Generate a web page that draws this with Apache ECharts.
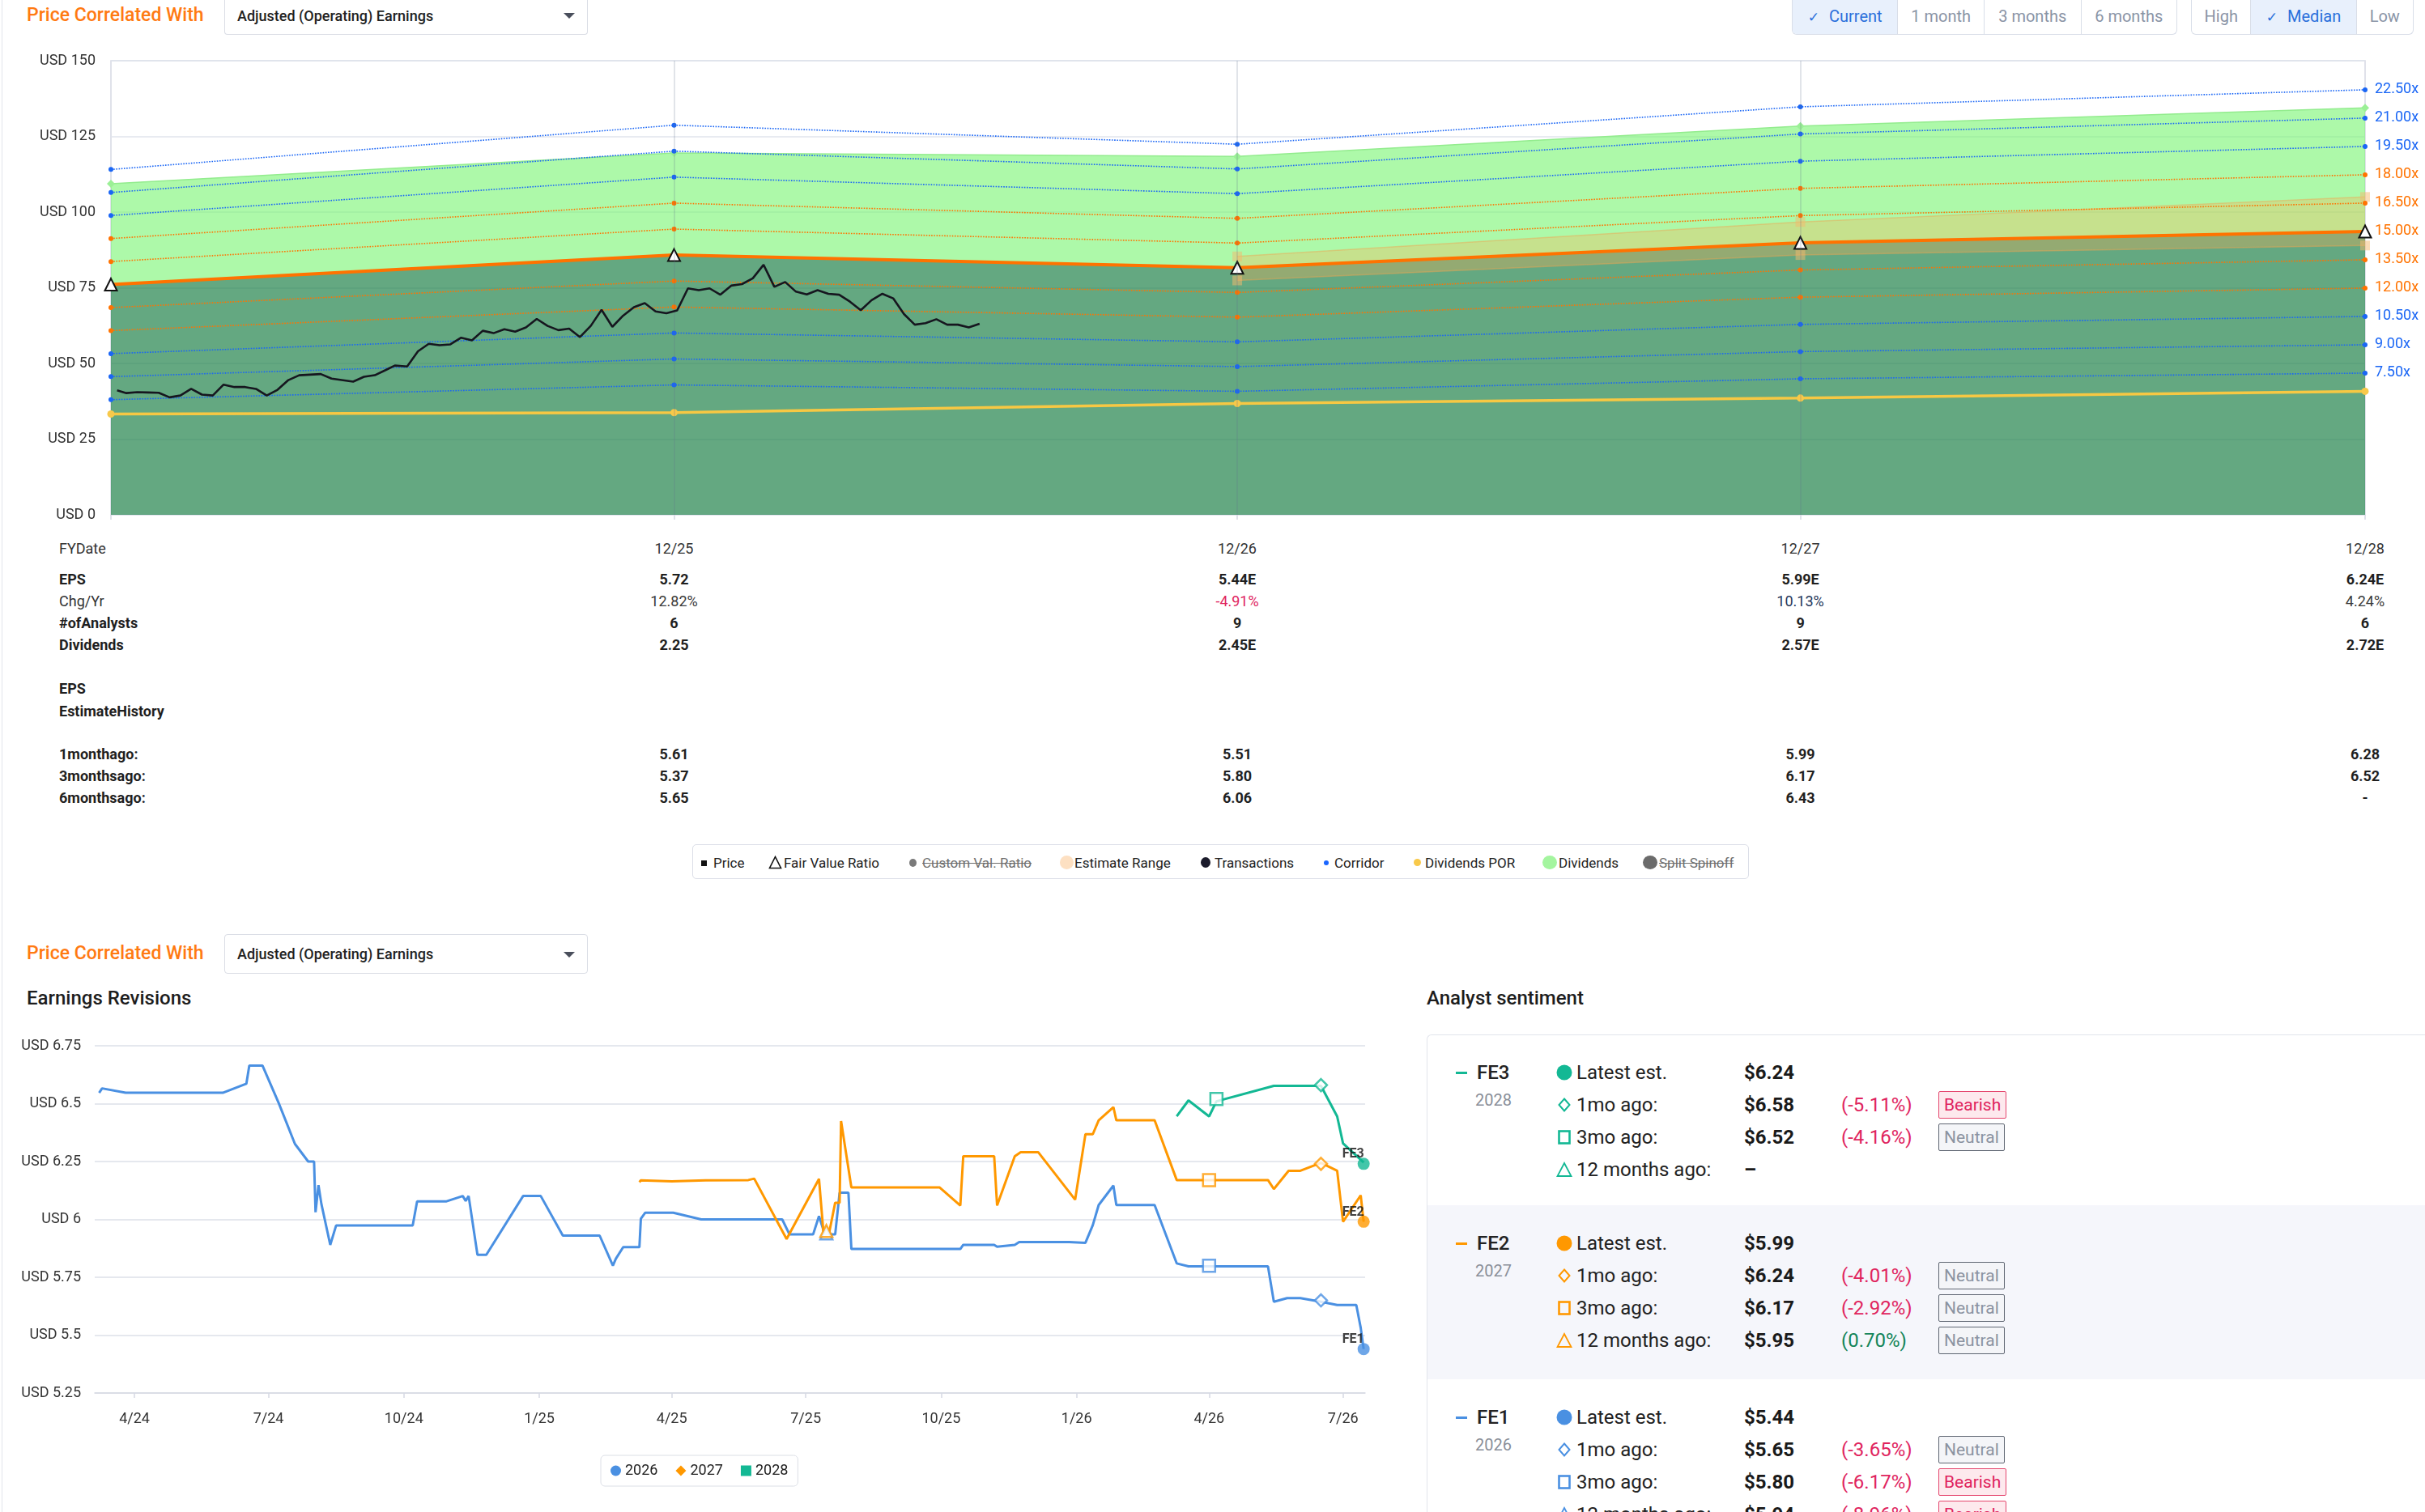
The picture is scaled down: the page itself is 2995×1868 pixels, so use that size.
<!DOCTYPE html>
<html lang="en">
<head>
<meta charset="UTF-8">
<meta name="viewport" content="width=device-width, initial-scale=1.0">
<title>Price Correlated With - Adjusted (Operating) Earnings</title>
<script src="https://cdn.jsdelivr.net/npm/echarts@6.0.0/dist/echarts.min.js"></script>
<style>
    html, body { margin: 0; padding: 0; background: #fff; }
    body {
        position: relative; width: 2995px; height: 1868px; overflow: hidden;
        font-family: Roboto, "Noto Sans", "DejaVu Sans", sans-serif; color: #222;
    }
    .t { position: absolute; white-space: nowrap; }
    .page-edge { position: absolute; left: 2px; top: 0; width: 1px; height: 1868px; background: #e2e5ec; }
    .heading-orange { color: #ff7a12; font-size: 23px; font-weight: 500; line-height: 28px; }
    .select {
        position: absolute; left: 277px; width: 449px; box-sizing: border-box;
        border: 1px solid #dadde5; border-radius: 4px;
        font-size: 18px; font-weight: 500; color: #222; padding-left: 15px;
    }
    .select .caret {
        position: absolute; right: 15px; top: 50%; margin-top: -3px; width: 0; height: 0;
        border-left: 7px solid transparent; border-right: 7px solid transparent; border-top: 7px solid #4a4f5c;
    }
    .btn-group {
        position: absolute; top: -1px; height: 44px; display: flex; box-sizing: border-box;
        border: 1px solid #d9dee8; border-top: none; border-radius: 0 0 6px 6px; overflow: hidden;
    }
    .btn-group div {
        height: 43px; line-height: 43px; text-align: center; font-size: 20px; color: #8a94a6;
        border-left: 1px solid #d9dee8; box-sizing: border-box;
    }
    .btn-group div:first-child { border-left: none; }
    .btn-group div.on { background: #e8f0fc; color: #2a6fdb; }
    .btn-group .chk { font-family: "DejaVu Sans", sans-serif; font-size: 17px; margin-right: 12px; }
    .section-title { font-size: 24px; font-weight: 500; color: #1d1d1d; line-height: 30px; }
    #topChart { position: absolute; left: 0; top: 0; width: 2995px; height: 660px; }
    #revChart { position: absolute; left: 0; top: 1240px; width: 1740px; height: 628px; }
    .cell { position: absolute; white-space: nowrap; font-size: 18px; line-height: 22px; color: #333; }
    .cell.b { font-weight: 700; color: #1f1f1f; }
    .legend-box {
        position: absolute; left: 855px; top: 1043px; width: 1305px; height: 43px; box-sizing: border-box;
        border: 1px solid #dcdfe8; border-radius: 5px;
    }
    .lg { position: absolute; top: 1055px; font-size: 17px; line-height: 22px; color: #222; white-space: nowrap; }
    .lg.off { color: #6f6f6f; text-decoration: line-through; }
    .dot { position: absolute; border-radius: 50%; }
    .panel {
        position: absolute; left: 1762px; top: 1278px; width: 1240px; height: 620px; box-sizing: border-box;
        border: 1px solid #e2e5ec; border-right: none; border-bottom: none; border-top-left-radius: 6px;
    }
    .panel-band { position: absolute; left: 1763px; top: 1489px; width: 1240px; height: 215px; background: #f5f6fb; }
    .s-text { position: absolute; white-space: nowrap; font-size: 24px; line-height: 30px; color: #222; }
    .s-val { font-weight: 700; color: #1a1a1a; }
    .s-year { font-size: 20px; color: #8a8f99; }
    .badge {
        position: absolute; height: 34px; line-height: 32px; box-sizing: border-box; padding: 0 6px;
        font-size: 21px; border: 1px solid; border-radius: 2px; white-space: nowrap;
    }
    .badge.bear { color: #e0245e; border-color: #e5486f; background: #fde9ed; }
    .badge.neut { color: #8b93a1; border-color: #5f6672; background: #f4f5f8; }
</style>
</head>
<body>
<div class="page-edge"></div>

<!-- header -->
<div class="t heading-orange" style="left:33px; top:5px;">Price Correlated With</div>
<div class="select" style="top:-4px; height:47px; line-height:47px; border-top:none; border-radius:0 0 4px 4px;">Adjusted (Operating) Earnings<span class="caret"></span></div>

<div class="btn-group" style="left:2213px; width:476px;">
    <div class="on" style="width:130px;"><span class="chk">✓</span>Current</div>
    <div style="width:107px;">1 month</div>
    <div style="width:120px;">3 months</div>
    <div style="width:119px;">6 months</div>
</div>
<div class="btn-group" style="left:2706px; width:275px;">
    <div style="width:73px;">High</div>
    <div class="on" style="width:131px;"><span class="chk">✓</span>Median</div>
    <div style="width:71px;">Low</div>
</div>

<div id="topChart"></div>
<div id="table"></div>

<!-- legend of the valuation chart -->
<div class="legend-box"></div>
<div class="dot" style="left:866px; top:1063px; width:7px; height:7px; border-radius:0; background:#111;"></div>
<div class="lg" style="left:881px;">Price</div>
<svg style="position:absolute; left:949px; top:1057px;" width="17" height="17"><path d="M8.5 1.5 L15.5 15.5 L1.5 15.5 Z" fill="#fff" stroke="#111" stroke-width="1.6"/></svg>
<div class="lg" style="left:968px;">Fair Value Ratio</div>
<div class="dot" style="left:1123px; top:1061px; width:9px; height:10px; background:#7a7a7a;"></div>
<div class="lg off" style="left:1139px;">Custom Val. Ratio</div>
<div class="dot" style="left:1309px; top:1057px; width:17px; height:17px; background:#fde0c2;"></div>
<div class="lg" style="left:1327px;">Estimate Range</div>
<div class="dot" style="left:1483px; top:1059px; width:12px; height:13px; background:#1b1b2b;"></div>
<div class="lg" style="left:1500px;">Transactions</div>
<div class="dot" style="left:1635px; top:1063px; width:6px; height:6px; background:#1a66ff;"></div>
<div class="lg" style="left:1648px;">Corridor</div>
<div class="dot" style="left:1746px; top:1061px; width:9px; height:9px; background:#f8c94a;"></div>
<div class="lg" style="left:1760px;">Dividends POR</div>
<div class="dot" style="left:1905px; top:1057px; width:18px; height:17px; background:#a4f59f;"></div>
<div class="lg" style="left:1925px;">Dividends</div>
<div class="dot" style="left:2029px; top:1057px; width:18px; height:17px; background:#6b6b6b;"></div>
<div class="lg off" style="left:2049px;">Split Spinoff</div>

<!-- second section -->
<div class="t heading-orange" style="left:33px; top:1164px;">Price Correlated With</div>
<div class="select" style="top:1154px; height:49px; line-height:47px;">Adjusted (Operating) Earnings<span class="caret"></span></div>
<div class="t section-title" style="left:33px; top:1218px;">Earnings Revisions</div>
<div class="t section-title" style="left:1762px; top:1218px;">Analyst sentiment</div>

<div id="revChart"></div>

<div class="panel"></div>
<div class="panel-band"></div>
<div id="sentiment"></div>

<script type="text/javascript">
    // ---------- valuation chart data ----------
    var fyDates = ['2024-12-31', '2025-12-31', '2026-12-31', '2027-12-31', '2028-12-31'];
    var fyEps = [5.07, 5.72, 5.44, 5.99, 6.24];
    var fyDividends = [2.22, 2.25, 2.45, 2.57, 2.72];
    var estimateDates = ['2026-12-31', '2027-12-31', '2028-12-31'];
    var estimateHighEps = [5.69, 6.45, 7.00];
    var estimateLowEps = [5.16, 5.72, 5.93];
    var fairValueRatio = 15;
    var corridorRatios = [22.5, 21, 19.5, 18, 16.5, 13.5, 12, 10.5, 9, 7.5];
    var pricePoints = [
        ['2025-01-04', 41.1], ['2025-01-10', 40.2], ['2025-01-17', 40.5], ['2025-01-24', 40.4], ['2025-01-31', 40.3],
        ['2025-02-07', 38.8], ['2025-02-14', 39.4], ['2025-02-21', 41.6], ['2025-02-28', 39.7],
        ['2025-03-07', 39.4], ['2025-03-14', 43.0], ['2025-03-21', 42.2], ['2025-03-28', 42.2],
        ['2025-04-04', 41.6], ['2025-04-11', 39.4], ['2025-04-18', 41.3], ['2025-04-25', 44.5],
        ['2025-05-02', 46.1], ['2025-05-16', 46.5], ['2025-05-23', 45.0],
        ['2025-06-06', 44.0], ['2025-06-13', 45.6], ['2025-06-20', 46.1], ['2025-06-27', 47.8],
        ['2025-07-03', 49.3], ['2025-07-11', 49.0], ['2025-07-18', 54.0], ['2025-07-25', 56.5],
        ['2025-08-01', 56.0], ['2025-08-08', 56.3], ['2025-08-15', 58.5], ['2025-08-22', 57.6], ['2025-08-29', 60.8],
        ['2025-09-05', 60.0], ['2025-09-12', 61.3], ['2025-09-19', 60.5], ['2025-09-26', 61.9],
        ['2025-10-03', 64.7], ['2025-10-10', 62.4], ['2025-10-17', 61.0], ['2025-10-24', 61.5], ['2025-10-31', 58.7],
        ['2025-11-07', 62.4], ['2025-11-14', 67.7], ['2025-11-21', 62.1], ['2025-11-28', 65.8],
        ['2025-12-05', 68.6], ['2025-12-12', 69.9], ['2025-12-19', 67.2], ['2025-12-26', 66.6],
        ['2026-01-02', 67.5], ['2026-01-09', 74.8], ['2026-01-16', 74.2], ['2026-01-23', 74.8], ['2026-01-30', 72.7],
        ['2026-02-06', 75.7], ['2026-02-13', 76.2], ['2026-02-20', 78.1], ['2026-02-27', 82.6],
        ['2026-03-06', 75.3], ['2026-03-13', 76.9], ['2026-03-20', 73.7], ['2026-03-27', 72.8],
        ['2026-04-03', 74.2], ['2026-04-10', 73.0], ['2026-04-17', 72.7], ['2026-04-24', 70.4],
        ['2026-05-01', 67.6], ['2026-05-08', 70.9], ['2026-05-15', 73.0], ['2026-05-22', 71.5], ['2026-05-29', 66.3],
        ['2026-06-05', 62.8], ['2026-06-12', 63.3], ['2026-06-19', 64.6], ['2026-06-26', 62.8],
        ['2026-07-03', 62.8], ['2026-07-10', 61.9], ['2026-07-17', 63.1]
    ];

    // ---------- table under the chart ----------
    var fyLabels = ['12/25', '12/26', '12/27', '12/28'];
    var epsRow = ['5.72', '5.44E', '5.99E', '6.24E'];
    var chgRow = ['12.82%', '-4.91%', '10.13%', '4.24%'];
    var analystsRow = ['6', '9', '9', '6'];
    var dividendsRow = ['2.25', '2.45E', '2.57E', '2.72E'];
    var oneMonthRow = ['5.61', '5.51', '5.99', '6.28'];
    var threeMonthRow = ['5.37', '5.80', '6.17', '6.52'];
    var sixMonthRow = ['5.65', '6.06', '6.43', '-'];

    // ---------- earnings revisions data ----------
    var revisionTicks = ['2024-04-01', '2024-07-01', '2024-10-01', '2025-01-01', '2025-04-01',
        '2025-07-01', '2025-10-01', '2026-01-01', '2026-04-01', '2026-07-01'];
    var revisions2026 = [
        ['2024-03-08', 6.547], ['2024-03-10', 6.566], ['2024-03-26', 6.547], ['2024-05-31', 6.547], ['2024-06-16', 6.586],
        ['2024-06-18', 6.664], ['2024-06-27', 6.664], ['2024-07-08', 6.502], ['2024-07-19', 6.326], ['2024-07-28', 6.25],
        ['2024-08-01', 6.25], ['2024-08-02', 6.031], ['2024-08-04', 6.148], ['2024-08-06', 6.066], ['2024-08-12', 5.89],
        ['2024-08-16', 5.974], ['2024-10-07', 5.974], ['2024-10-10', 6.078], ['2024-10-30', 6.078], ['2024-11-10', 6.101],
        ['2024-11-12', 6.08], ['2024-11-14', 6.101], ['2024-11-20', 5.847], ['2024-11-26', 5.847], ['2024-12-21', 6.101],
        ['2025-01-02', 6.101], ['2025-01-17', 5.93], ['2025-02-11', 5.93], ['2025-02-20', 5.80], ['2025-02-22', 5.83],
        ['2025-02-27', 5.88], ['2025-03-10', 5.88], ['2025-03-11', 6.003], ['2025-03-14', 6.029], ['2025-04-02', 6.029],
        ['2025-04-21', 6.0], ['2025-06-15', 6.0], ['2025-06-20', 5.935], ['2025-07-06', 5.935], ['2025-07-10', 6.014],
        ['2025-07-14', 5.935], ['2025-07-21', 5.935], ['2025-07-24', 6.115], ['2025-07-30', 6.115], ['2025-08-01', 5.872],
        ['2025-10-14', 5.872], ['2025-10-16', 5.89], ['2025-11-06', 5.89], ['2025-11-08', 5.882], ['2025-11-20', 5.89],
        ['2025-11-23', 5.902], ['2025-12-27', 5.902], ['2026-01-07', 5.899], ['2026-01-12', 5.975], ['2026-01-16', 6.062],
        ['2026-01-26', 6.146], ['2026-01-28', 6.062], ['2026-02-23', 6.062], ['2026-03-10', 5.81], ['2026-03-18', 5.797],
        ['2026-05-11', 5.797], ['2026-05-15', 5.644], ['2026-05-24', 5.66], ['2026-06-02', 5.66], ['2026-06-16', 5.644],
        ['2026-06-27', 5.63], ['2026-07-10', 5.63], ['2026-07-13', 5.532], ['2026-07-15', 5.44]
    ];
    var revisions2027 = [
        ['2025-03-10', 6.161], ['2025-03-11', 6.169], ['2025-04-01', 6.164], ['2025-04-24', 6.169], ['2025-05-23', 6.17],
        ['2025-05-27', 6.176], ['2025-06-18', 5.915], ['2025-07-10', 6.175], ['2025-07-13', 5.945], ['2025-07-17', 5.945],
        ['2025-07-21', 6.072], ['2025-07-24', 6.072], ['2025-07-25', 6.425], ['2025-08-01', 6.138], ['2025-09-30', 6.138],
        ['2025-10-14', 6.06], ['2025-10-16', 6.273], ['2025-11-06', 6.273], ['2025-11-08', 6.06], ['2025-11-20', 6.273],
        ['2025-11-24', 6.29], ['2025-12-06', 6.29], ['2025-12-31', 6.085], ['2026-01-07', 6.368], ['2026-01-12', 6.368],
        ['2026-01-16', 6.428], ['2026-01-26', 6.485], ['2026-01-28', 6.428], ['2026-02-23', 6.428], ['2026-03-10', 6.17],
        ['2026-05-11', 6.17], ['2026-05-15', 6.131], ['2026-05-25', 6.21], ['2026-06-02', 6.21], ['2026-06-16', 6.244],
        ['2026-06-27', 6.21], ['2026-07-01', 5.99], ['2026-07-13', 6.104], ['2026-07-15', 5.99]
    ];
    var revisions2028 = [
        ['2026-03-10', 6.445], ['2026-03-18', 6.514], ['2026-04-01', 6.445], ['2026-04-06', 6.51], ['2026-05-15', 6.577],
        ['2026-06-16', 6.577], ['2026-06-27', 6.445], ['2026-07-01', 6.328], ['2026-07-15', 6.246]
    ];
    // latest, 1 month ago, 3 months ago, 12 months ago
    var marks2026 = [['2026-07-15', 5.44], ['2026-06-16', 5.65], ['2026-04-01', 5.80], ['2025-07-15', 5.94]];
    var marks2027 = [['2026-07-15', 5.99], ['2026-06-16', 6.24], ['2026-04-01', 6.17], ['2025-07-15', 5.95]];
    var marks2028 = [['2026-07-15', 6.24], ['2026-06-16', 6.58], ['2026-04-06', 6.52]];

    // ---------- analyst sentiment ----------
    var sentimentFE3 = [['Latest est.', '$6.24', '', ''], ['1mo ago:', '$6.58', '(-5.11%)', 'Bearish'],
        ['3mo ago:', '$6.52', '(-4.16%)', 'Neutral'], ['12 months ago:', '–', '', '']];
    var sentimentFE2 = [['Latest est.', '$5.99', '', ''], ['1mo ago:', '$6.24', '(-4.01%)', 'Neutral'],
        ['3mo ago:', '$6.17', '(-2.92%)', 'Neutral'], ['12 months ago:', '$5.95', '(0.70%)', 'Neutral']];
    var sentimentFE1 = [['Latest est.', '$5.44', '', ''], ['1mo ago:', '$5.65', '(-3.65%)', 'Neutral'],
        ['3mo ago:', '$5.80', '(-6.17%)', 'Bearish'], ['12 months ago:', '$5.94', '(-8.96%)', 'Bearish']];

    var BLUE = '#1a66f5', ORANGE = '#ff7300';
    var FONT = 'Roboto';
    function ts(d) { return new Date(d + 'T00:00:00').getTime(); }
    function times(arr, k) { return fyDates.map(function (d, i) { return [d, +(arr[i] * k).toFixed(3)]; }); }
    function stamped(points) { return points.map(function (p) { return [ts(p[0]), p[1]]; }); }

    // ================= valuation chart =================
    var topChart = echarts.init(document.getElementById('topChart'));
    var series = [];

    // earnings area (dark green) and dividends on top of it (light green)
    series.push({
        name: 'Earnings', type: 'line', stack: 'val', z: 1, symbol: 'none',
        data: times(fyEps, fairValueRatio),
        lineStyle: { width: 0 }, areaStyle: { color: 'rgba(34,131,76,0.7)', opacity: 1 }
    });
    series.push({
        name: 'Dividends', type: 'line', stack: 'val', z: 1,
        data: times(fyDividends, fairValueRatio),
        symbol: 'diamond', symbolSize: 10, itemStyle: { color: '#9bf096' },
        lineStyle: { color: '#93ec8e', width: 1.5 }, areaStyle: { color: 'rgba(118,245,112,0.6)', opacity: 1 }
    });

    // estimate range band
    var estLow = estimateDates.map(function (d, i) { return [d, +(estimateLowEps[i] * fairValueRatio).toFixed(3)]; });
    var estSpan = estimateDates.map(function (d, i) { return [d, +((estimateHighEps[i] - estimateLowEps[i]) * fairValueRatio).toFixed(3)]; });
    var capStyle = { color: 'rgba(245,185,110,0.5)' };
    series.push({
        name: 'Estimate Low', type: 'line', stack: 'est', z: 2, data: estLow,
        symbol: 'rect', symbolSize: 12, itemStyle: capStyle,
        lineStyle: { color: 'rgba(240,165,80,0.45)', width: 1.5 }
    });
    series.push({
        name: 'Estimate Range', type: 'line', stack: 'est', z: 2, data: estSpan,
        symbol: 'rect', symbolSize: 12, itemStyle: capStyle,
        lineStyle: { color: 'rgba(240,165,80,0.45)', width: 1.5 },
        areaStyle: { color: 'rgba(250,175,80,0.32)', opacity: 1 }
    });

    // corridor lines
    corridorRatios.forEach(function (r) {
        var c = (r >= 12 && r <= 18) ? ORANGE : BLUE;
        series.push({
            name: 'Corridor ' + r, type: 'line', z: 3, data: times(fyEps, r),
            symbol: 'circle', symbolSize: 6, itemStyle: { color: c },
            lineStyle: { color: c, width: 1.6, type: 'dotted' },
            endLabel: { show: true, formatter: r.toFixed(2) + 'x', color: c, fontSize: 18, fontFamily: FONT, distance: 12 }
        });
    });

    // dividends payout line
    series.push({
        name: 'Dividends POR', type: 'line', z: 3, data: times(fyDividends, fairValueRatio),
        symbol: 'circle', symbolSize: 9, itemStyle: { color: '#f8c94a' },
        lineStyle: { color: '#f7c843', width: 3.5 }
    });

    // fair value line
    series.push({
        name: 'Fair Value Ratio', type: 'line', z: 4, data: times(fyEps, fairValueRatio),
        symbol: 'triangle', symbolSize: [15, 15],
        itemStyle: { color: '#fff', borderColor: '#111', borderWidth: 2 },
        lineStyle: { color: ORANGE, width: 4 },
        endLabel: { show: true, formatter: fairValueRatio.toFixed(2) + 'x', color: ORANGE, fontSize: 18, fontFamily: FONT, distance: 12 }
    });

    // price
    series.push({
        name: 'Price', type: 'line', z: 5, data: pricePoints, symbol: 'none',
        lineStyle: { color: '#16161f', width: 2.6 },
        markLine: {
            silent: true, symbol: 'none', label: { show: false },
            lineStyle: { color: 'rgba(100,110,140,0.25)', width: 1.5, type: 'solid' },
            data: fyDates.slice(1, 4).map(function (d) { return { xAxis: d }; })
        }
    });

    topChart.setOption({
        animation: false,
        textStyle: { fontFamily: FONT },
        grid: { left: 137, right: 74, top: 75, bottom: 24, show: true, borderColor: '#d6d9e3', borderWidth: 1.5 },
        xAxis: {
            type: 'time', min: fyDates[0], max: fyDates[fyDates.length - 1],
            axisLine: { show: false }, splitLine: { show: false },
            axisLabel: { show: false },
            axisTick: { show: true, length: 6, lineStyle: { color: '#d6d9e3', width: 1.5 }, customValues: fyDates.map(ts) }
        },
        yAxis: {
            type: 'value', min: 0, max: 150, interval: 25,
            axisLine: { show: false }, axisTick: { show: false },
            axisLabel: { formatter: 'USD {value}', fontSize: 18, color: '#333', margin: 19 },
            splitLine: { lineStyle: { color: '#e1e4ec', width: 1.5 } }
        },
        series: series
    });

    // table aligned with the fiscal year points
    var colX = fyDates.slice(1).map(function (d) { return topChart.convertToPixel({ xAxisIndex: 0 }, ts(d)); });
    var table = document.getElementById('table');
    function cell(text, x, y, bold, center, color) {
        var el = document.createElement('div');
        el.className = 'cell' + (bold ? ' b' : '');
        el.textContent = text;
        el.style.left = x + 'px';
        el.style.top = (y - 11) + 'px';
        if (center) el.style.transform = 'translateX(-50%)';
        if (color) el.style.color = color;
        table.appendChild(el);
    }
    function tableRow(label, y, values, bold, labelBold) {
        cell(label, 73, y, labelBold, false);
        if (!values) return;
        values.forEach(function (v, i) {
            var color = null;
            if (values === chgRow) color = v.charAt(0) === '-' ? '#e0245e' : (i === 2 ? '#26375a' : '#3a3a3a');
            cell(v, colX[i], y, bold, true, color);
        });
    }
    tableRow('FYDate', 678, fyLabels, false, false);
    tableRow('EPS', 716, epsRow, true, true);
    tableRow('Chg/Yr', 743, chgRow, false, false);
    tableRow('#ofAnalysts', 770, analystsRow, true, true);
    tableRow('Dividends', 797, dividendsRow, true, true);
    tableRow('EPS', 851, null, true, true);
    tableRow('EstimateHistory', 879, null, true, true);
    tableRow('1monthago:', 932, oneMonthRow, true, true);
    tableRow('3monthsago:', 959, threeMonthRow, true, true);
    tableRow('6monthsago:', 986, sixMonthRow, true, true);

    // ================= earnings revisions chart =================
    var revChart = echarts.init(document.getElementById('revChart'));
    var revColors = { '2026': '#4a90e2', '2027': '#ff9800', '2028': '#13b894' };

    function revisionLine(name, points) {
        return {
            name: name, type: 'line', z: 2, data: stamped(points), symbol: 'none',
            itemStyle: { color: revColors[name] }, lineStyle: { color: revColors[name], width: 3 }
        };
    }
    function revisionMarks(name, marks, tag) {
        var c = revColors[name];
        var shapes = ['circle', 'diamond', 'rect', 'triangle'];
        return {
            name: name + ' marks', type: 'scatter', z: 4,
            data: stamped(marks).map(function (m, i) {
                return {
                    value: m, symbol: shapes[i], symbolSize: 15,
                    itemStyle: i === 0 ? { color: c } : { color: '#fff', borderColor: c, borderWidth: 2.5 },
                    label: i === 0
                        ? { show: true, formatter: tag, position: 'top', distance: 0, offset: [-13, 4],
                            fontSize: 16, fontWeight: 'bold', color: '#111', fontFamily: FONT }
                        : { show: false }
                };
            })
        };
    }

    revChart.setOption({
        animation: false,
        textStyle: { fontFamily: FONT },
        grid: { left: 117, right: 54, top: 52, bottom: 147 },
        legend: {
            left: 742, top: 558, orient: 'horizontal',
            padding: [10, 12], itemGap: 22, itemWidth: 13, itemHeight: 13,
            borderColor: '#dcdfe6', borderWidth: 1, borderRadius: 5,
            textStyle: { fontSize: 18, color: '#222' },
            data: [{ name: '2026', icon: 'circle' }, { name: '2027', icon: 'diamond' }, { name: '2028', icon: 'rect' }]
        },
        xAxis: {
            type: 'value', min: ts('2024-03-05'), max: ts('2026-07-16'),
            axisLine: { lineStyle: { color: '#d6d9e3', width: 1.5 } },
            axisTick: { show: true, length: 6, lineStyle: { color: '#d6d9e3', width: 1.5 }, customValues: revisionTicks.map(ts) },
            axisLabel: {
                customValues: revisionTicks.map(ts), fontSize: 18, color: '#333', margin: 23,
                formatter: function (v) {
                    var d = new Date(v);
                    return (d.getMonth() + 1) + '/' + String(d.getFullYear()).slice(2);
                }
            },
            splitLine: { show: false }
        },
        yAxis: {
            type: 'value', min: 5.25, max: 6.75, interval: 0.25,
            axisLine: { show: false }, axisTick: { show: false },
            axisLabel: { fontSize: 18, color: '#333', margin: 17, formatter: function (v) { return 'USD ' + (+v.toFixed(2)); } },
            splitLine: { lineStyle: { color: '#dde0e8', width: 1.5 } }
        },
        series: [
            revisionLine('2026', revisions2026),
            revisionLine('2027', revisions2027),
            revisionLine('2028', revisions2028),
            revisionMarks('2026', marks2026, 'FE1'),
            revisionMarks('2027', marks2027, 'FE2'),
            revisionMarks('2028', marks2028, 'FE3')
        ]
    });

    // ================= analyst sentiment panel =================
    var sentiment = document.getElementById('sentiment');
    var blocks = [
        { tag: 'FE3', year: '2028', rows: sentimentFE3, color: revColors['2028'], top: 1278 },
        { tag: 'FE2', year: '2027', rows: sentimentFE2, color: revColors['2027'], top: 1489 },
        { tag: 'FE1', year: '2026', rows: sentimentFE1, color: revColors['2026'], top: 1704 }
    ];
    function icon(kind, c) {
        if (kind === 0) return '<svg width="20" height="20"><circle cx="10" cy="10" r="9.5" fill="' + c + '"/></svg>';
        if (kind === 1) return '<svg width="20" height="20"><path d="M10 2.5 L16.5 10 L10 17.5 L3.5 10 Z" fill="none" stroke="' + c + '" stroke-width="2"/></svg>';
        if (kind === 2) return '<svg width="20" height="20"><rect x="3.5" y="2.5" width="13" height="15" fill="none" stroke="' + c + '" stroke-width="2.6"/></svg>';
        return '<svg width="20" height="20"><path d="M10 2 L18.5 18 L1.5 18 Z" fill="none" stroke="' + c + '" stroke-width="1.8"/></svg>';
    }
    function put(html, x, y, cls, h) {
        var el = document.createElement('div');
        el.className = cls;
        el.innerHTML = html;
        el.style.left = x + 'px';
        el.style.top = (y - (h || 15)) + 'px';
        sentiment.appendChild(el);
        return el;
    }
    blocks.forEach(function (b) {
        var y0 = b.top + 47;
        var dash = document.createElement('div');
        dash.style.cssText = 'position:absolute;left:1798px;top:' + (y0 - 1) + 'px;width:14px;height:3px;background:' + b.color;
        sentiment.appendChild(dash);
        put(b.tag, 1824, y0, 's-text').style.fontWeight = '500';
        put(b.year, 1822, b.top + 81, 's-text s-year');
        b.rows.forEach(function (r, i) {
            var y = y0 + i * 40;
            put(icon(i, b.color), 1922, y, 's-text', 10).style.lineHeight = '0';
            put(r[0], 1947, y, 's-text');
            put(r[1], 2154, y, 's-text s-val');
            if (r[2]) {
                var p = put(r[2], 2274, y, 's-text');
                p.style.color = r[2].indexOf('-') >= 0 ? '#e0245e' : '#13855a';
            }
            if (r[3]) {
                var bd = put(r[3], 2394, y, 'badge ' + (r[3] === 'Bearish' ? 'bear' : 'neut'), 17);
                bd.style.minWidth = (r[3] === 'Bearish' ? 84 : 80) + 'px';
            }
        });
    });
</script>
</body>
</html>
